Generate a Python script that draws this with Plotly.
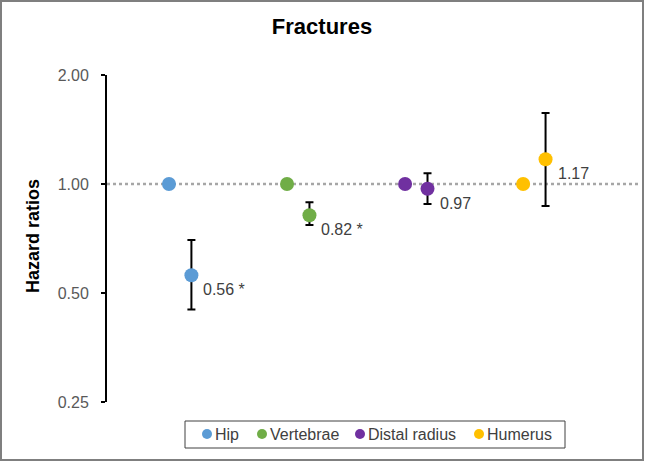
import math
import plotly.graph_objects as go

categories = ["Hip", "Vertebrae", "Distal radius", "Humerus"]
reference = [1.0, 1.0, 1.0, 1.0]
hazard_ratios = [0.56, 0.82, 0.97, 1.17]
ci_lower = [0.45, 0.77, 0.88, 0.87]
ci_upper = [0.70, 0.89, 1.07, 1.57]
labels = ["0.56 *", "0.82 *", "0.97", "1.17"]
colors = ["#5B9BD5", "#70AD47", "#7030A0", "#FFC000"]
tick_vals = [0.25, 0.5, 1.0, 2.0]
tick_text = ["0.25", "0.50", "1.00", "2.00"]

W, H = 645, 462
ML, MR, MT, MB = 107, 5, 75, 60
PW, PH = W - ML - MR, H - MT - MB
FONT = "Arial, Liberation Sans, sans-serif"
offset = 0.19


def px_x(p):
    return (p - ML) / PW


def px_y(p):
    return (H - MB - p) / PH


fig = go.Figure()
for i, cat in enumerate(categories):
    xr = i + 1
    xh = i + 1 + offset
    fig.add_trace(go.Scatter(
        x=[xr], y=[reference[i]], mode="markers", name=cat, legendgroup=cat,
        marker=dict(color=colors[i], size=14), showlegend=False))
    fig.add_trace(go.Scatter(
        x=[xh], y=[hazard_ratios[i]], mode="markers", name=cat, legendgroup=cat,
        marker=dict(color=colors[i], size=14), showlegend=False,
        error_y=dict(type="data", symmetric=False,
                     array=[ci_upper[i] - hazard_ratios[i]],
                     arrayminus=[hazard_ratios[i] - ci_lower[i]],
                     color="black", thickness=2, width=4)))
    fig.add_annotation(x=xh, y=math.log10(hazard_ratios[i]), yref="y", xref="x",
                       text=labels[i], showarrow=False, xanchor="left", yanchor="top",
                       xshift=10, yshift=-4,
                       font=dict(family=FONT, size=16, color="#404040"))

# dotted reference line
fig.add_shape(type="line", xref="paper", yref="y", x0=0, x1=1, y0=1, y1=1,
              line=dict(color="#A6A6A6", width=2.5, dash="dot"), layer="below")

# outer border
fig.add_shape(type="rect", xref="paper", yref="paper",
              x0=px_x(1), x1=px_x(W - 2), y0=px_y(H - 2), y1=px_y(1),
              line=dict(color="#7F7F7F", width=2), fillcolor="rgba(0,0,0,0)")

# y axis title
fig.add_annotation(xref="paper", yref="paper", x=px_x(33), y=px_y(236),
                   text="<b>Hazard ratios</b>", textangle=-90, showarrow=False,
                   xanchor="center", yanchor="middle",
                   font=dict(family=FONT, size=18, color="black"))

# legend (drawn manually to match compact spacing)
legend_dot_px = [207, 262, 360, 479]
legend_y = 434
fig.add_shape(type="rect", xref="paper", yref="paper",
              x0=px_x(185), x1=px_x(565), y0=px_y(448), y1=px_y(421),
              line=dict(color="#404040", width=1), fillcolor="white")
for i, cat in enumerate(categories):
    fig.add_shape(type="circle", xref="paper", yref="paper",
                  xsizemode="pixel", ysizemode="pixel",
                  xanchor=px_x(legend_dot_px[i]), yanchor=px_y(legend_y),
                  x0=-5, x1=5, y0=-5, y1=5,
                  line=dict(width=0), fillcolor=colors[i])
    fig.add_annotation(xref="paper", yref="paper", x=px_x(legend_dot_px[i] + 6),
                       y=px_y(legend_y), text=cat, showarrow=False,
                       xanchor="left", yanchor="middle",
                       font=dict(family=FONT, size=16, color="#404040"))

fig.update_layout(
    width=W, height=H,
    margin=dict(l=ML, r=MR, t=MT, b=MB),
    paper_bgcolor="white", plot_bgcolor="white",
    title=dict(text="<b>Fractures</b>", x=322 / W, xanchor="center",
               y=1 - 26 / H, yanchor="middle",
               font=dict(family=FONT, size=22, color="black")),
    font=dict(family=FONT, size=16, color="#595959"),
    xaxis=dict(visible=False, range=[0.475, 4.99]),
    yaxis=dict(type="log", range=[math.log10(0.25), math.log10(2)],
               tickvals=tick_vals, ticktext=tick_text,
               showgrid=False, zeroline=False, showline=True, linecolor="black", linewidth=2,
               ticks="outside", ticklen=4, tickwidth=2, tickcolor="black",
               ticklabelstandoff=9,
               tickfont=dict(family=FONT, size=16, color="#595959")),
    showlegend=False,
)

fig.write_html("out.html")
